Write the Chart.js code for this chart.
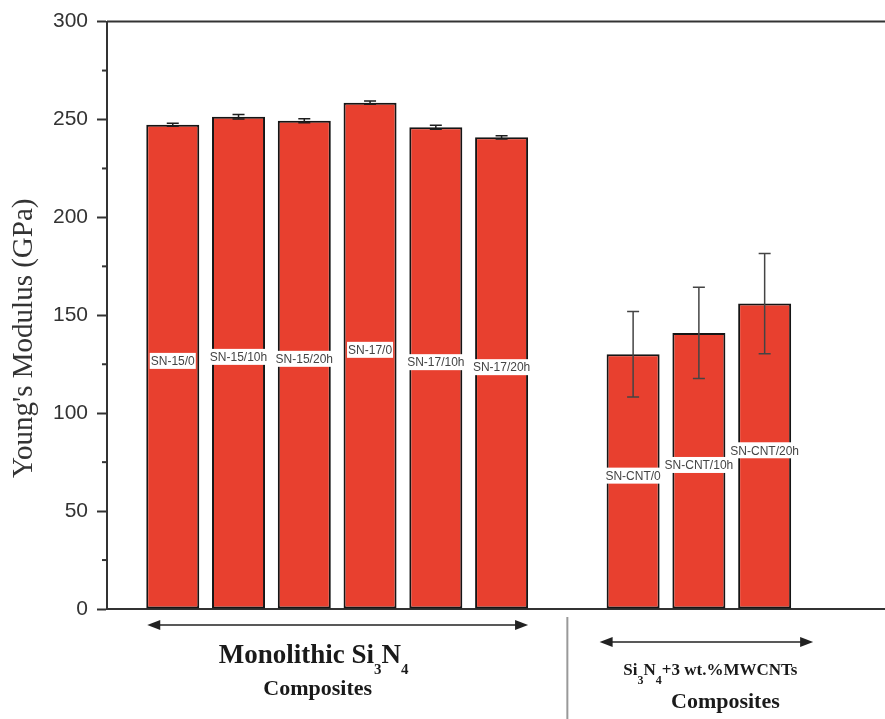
<!DOCTYPE html>
<html>
<head>
<meta charset="utf-8">
<script src="https://cdn.jsdelivr.net/npm/chart.js@4.4.1/dist/chart.umd.min.js"></script>
<style>
  html, body { margin: 0; padding: 0; background: #fff; }
  #wrap { width: 885px; height: 719px; }
</style>
</head>
<body>
<div id="wrap"><canvas id="grafico"></canvas></div>
<script>
// dados
const monolithicLabels = ['SN-15/0', 'SN-15/10h', 'SN-15/20h', 'SN-17/0', 'SN-17/10h', 'SN-17/20h']
const monolithicValues = [247.3, 251.4, 249.4, 258.6, 246.0, 240.9]
const monolithicErrors = [0.8, 1.2, 1.0, 0.8, 1.0, 0.8]
const cntLabels = ['SN-CNT/0', 'SN-CNT/10h', 'SN-CNT/20h']
const cntValues = [130.1, 141.0, 156.0]
const cntErrors = [21.8, 23.3, 25.6]
const yMajorTicks = [0, 50, 100, 150, 200, 250, 300]
const yMinorTicks = [25, 75, 125, 175, 225, 275]

const barColor = '#e8402f'
const sans = "'Liberation Sans', Arial, sans-serif"
const serif = "'Liberation Serif', 'Times New Roman', serif"

// monta os pontos: grupo monolitico, uma posição vazia, grupo com CNT
const allLabels = monolithicLabels.concat(cntLabels)
const allValues = monolithicValues.concat(cntValues)
const allErrors = monolithicErrors.concat(cntErrors)
const pontos = allValues.map((v, i) => ({
    x: i < monolithicLabels.length ? i : i + 1,
    y: v
}))

// barras de erro
const errorBars = {
    id: 'errorBars',
    afterDatasetsDraw(chart) {
        const ctx = chart.ctx
        const yScale = chart.scales.y
        const meta = chart.getDatasetMeta(0)
        ctx.save()
        ctx.lineWidth = 1.5
        meta.data.forEach((bar, i) => {
            const v = allValues[i]
            const e = allErrors[i]
            const top = yScale.getPixelForValue(v + e)
            const bot = yScale.getPixelForValue(v - e)
            ctx.strokeStyle = i < monolithicLabels.length ? '#1e1e1e' : '#444'
            ctx.beginPath()
            ctx.moveTo(bar.x, top)
            ctx.lineTo(bar.x, bot)
            ctx.moveTo(bar.x - 6, top)
            ctx.lineTo(bar.x + 6, top)
            ctx.moveTo(bar.x - 6, bot)
            ctx.lineTo(bar.x + 6, bot)
            ctx.stroke()
        })
        ctx.restore()
    }
}

// rótulos dentro das barras
const barLabels = {
    id: 'barLabels',
    afterDatasetsDraw(chart) {
        const ctx = chart.ctx
        const yScale = chart.scales.y
        const meta = chart.getDatasetMeta(0)
        ctx.save()
        ctx.font = '12px ' + sans
        ctx.textAlign = 'center'
        ctx.textBaseline = 'middle'
        meta.data.forEach((bar, i) => {
            const y = yScale.getPixelForValue(allValues[i] / 2) - 6
            const w = ctx.measureText(allLabels[i]).width
            ctx.fillStyle = '#ffffff'
            ctx.fillRect(bar.x - w / 2 - 1, y - 8, w + 2, 16)
            ctx.fillStyle = '#444'
            ctx.fillText(allLabels[i], bar.x, y + 1)
        })
        ctx.restore()
    }
}

// moldura, ticks menores e anotações embaixo do eixo
function seta(ctx, x1, x2, y) {
    ctx.beginPath()
    ctx.moveTo(x1 + 6, y)
    ctx.lineTo(x2 - 6, y)
    ctx.stroke()
    ctx.beginPath()
    ctx.moveTo(x1, y)
    ctx.lineTo(x1 + 13, y - 5)
    ctx.lineTo(x1 + 13, y + 5)
    ctx.closePath()
    ctx.fill()
    ctx.beginPath()
    ctx.moveTo(x2, y)
    ctx.lineTo(x2 - 13, y - 5)
    ctx.lineTo(x2 - 13, y + 5)
    ctx.closePath()
    ctx.fill()
}

function textoComIndices(ctx, partes, xIni, baseline, tamanho, tamanhoSub, desloc) {
    let x = xIni
    partes.forEach(p => {
        const sub = p[1]
        ctx.font = 'bold ' + (sub ? tamanhoSub : tamanho) + 'px ' + serif
        ctx.fillText(p[0], x, baseline + (sub ? desloc : 0))
        x += ctx.measureText(p[0]).width
    })
}

function larguraTexto(ctx, partes, tamanho, tamanhoSub) {
    let w = 0
    partes.forEach(p => {
        ctx.font = 'bold ' + (p[1] ? tamanhoSub : tamanho) + 'px ' + serif
        w += ctx.measureText(p[0]).width
    })
    return w
}

const decoracao = {
    id: 'decoracao',
    afterDraw(chart) {
        const ctx = chart.ctx
        const area = chart.chartArea
        const yScale = chart.scales.y
        const xScale = chart.scales.x
        const meta = chart.getDatasetMeta(0)
        ctx.save()

        // linha de cima
        ctx.strokeStyle = '#333'
        ctx.lineWidth = 2
        ctx.beginPath()
        ctx.moveTo(area.left, area.top)
        ctx.lineTo(area.right, area.top)
        ctx.stroke()

        // ticks menores
        yMinorTicks.forEach(t => {
            const y = yScale.getPixelForValue(t)
            ctx.beginPath()
            ctx.moveTo(area.left - 5, y)
            ctx.lineTo(area.left, y)
            ctx.stroke()
        })

        // título do eixo y
        ctx.save()
        ctx.translate(24, (area.top + area.bottom) / 2 + 23)
        ctx.rotate(-Math.PI / 2)
        ctx.font = '29px ' + serif
        ctx.fillStyle = '#333'
        ctx.textAlign = 'center'
        ctx.textBaseline = 'middle'
        ctx.fillText("Young's Modulus (GPa)", 0, 0)
        ctx.restore()

        // setas
        const nM = monolithicLabels.length
        const b0 = meta.data[0], b5 = meta.data[nM - 1]
        const c0 = meta.data[nM], c2 = meta.data[meta.data.length - 1]
        ctx.strokeStyle = '#222'
        ctx.fillStyle = '#222'
        ctx.lineWidth = 1.5
        const y1 = area.bottom + 16
        const x1a = b0.x - b0.width / 2 + 1, x1b = b5.x + b5.width / 2
        seta(ctx, x1a, x1b, y1)
        const y2 = area.bottom + 33
        const x2a = c0.x - c0.width / 2 - 7, x2b = c2.x + c2.width / 2 + 22
        seta(ctx, x2a, x2b, y2)

        // separador
        const xs = xScale.getPixelForValue(nM)
        ctx.strokeStyle = '#999'
        ctx.lineWidth = 2
        ctx.beginPath()
        ctx.moveTo(xs, area.bottom + 8)
        ctx.lineTo(xs, chart.height)
        ctx.stroke()

        // textos
        ctx.fillStyle = '#1a1a1a'
        ctx.textAlign = 'left'
        ctx.textBaseline = 'alphabetic'
        const mono = [['Monolithic Si', false], ['3', true], ['N', false], ['4', true]]
        const cm1 = (x1a + x1b) / 2 - 24
        const wm = larguraTexto(ctx, mono, 27, 15)
        textoComIndices(ctx, mono, cm1 - wm / 2, area.bottom + 54, 27, 15, 11)
        ctx.font = 'bold 22px ' + serif
        ctx.textAlign = 'center'
        ctx.fillText('Composites', cm1 + 4, area.bottom + 86)

        ctx.textAlign = 'left'
        const cnt = [['Si', false], ['3', true], ['N', false], ['4', true], ['+3 wt.%MWCNTs', false]]
        const cm2 = (x2a + x2b) / 2 + 4
        const wc = larguraTexto(ctx, cnt, 17, 12)
        textoComIndices(ctx, cnt, cm2 - wc / 2, area.bottom + 66, 17, 12, 9)
        ctx.font = 'bold 22px ' + serif
        ctx.textAlign = 'center'
        ctx.fillText('Composites', cm2 + 15, area.bottom + 99)
        ctx.restore()
    }
}

const ctxGrafico = document.getElementById('grafico')
new Chart(ctxGrafico, {
    type: 'bar',
    data: {
        datasets: [{
            data: pontos,
            backgroundColor: barColor,
            borderColor: '#151515',
            borderWidth: 2,
            borderSkipped: false,
            barPercentage: 0.806,
            categoryPercentage: 1
        }]
    },
    options: {
        responsive: true,
        maintainAspectRatio: false,
        animation: false,
        layout: { padding: { top: 21, right: 0, bottom: 0, left: 0 } },
        plugins: {
            legend: { display: false },
            tooltip: { enabled: false }
        },
        scales: {
            x: {
                type: 'linear',
                min: -1,
                max: 10.83,
                offset: false,
                // ticks só nas posições das barras (não aparecem)
                afterBuildTicks: (scale) => { scale.ticks = pontos.map(p => ({ value: p.x })) },
                ticks: { display: false },
                grid: { display: false, drawTicks: false, offset: false },
                border: { display: true, color: '#333', width: 2 },
                afterFit: (scale) => { scale.height = 110 }
            },
            y: {
                min: 0,
                max: 300,
                afterBuildTicks: (scale) => { scale.ticks = yMajorTicks.map(v => ({ value: v })) },
                ticks: {
                    color: '#333',
                    font: { family: sans, size: 21 },
                    padding: 9
                },
                grid: { drawOnChartArea: false, drawTicks: true, tickLength: 10, color: '#333', tickWidth: 2 },
                border: { display: true, color: '#333', width: 2 },
                afterFit: (scale) => { scale.width = 107 }
            }
        }
    },
    plugins: [errorBars, barLabels, decoracao]
})
</script>
</body>
</html>
